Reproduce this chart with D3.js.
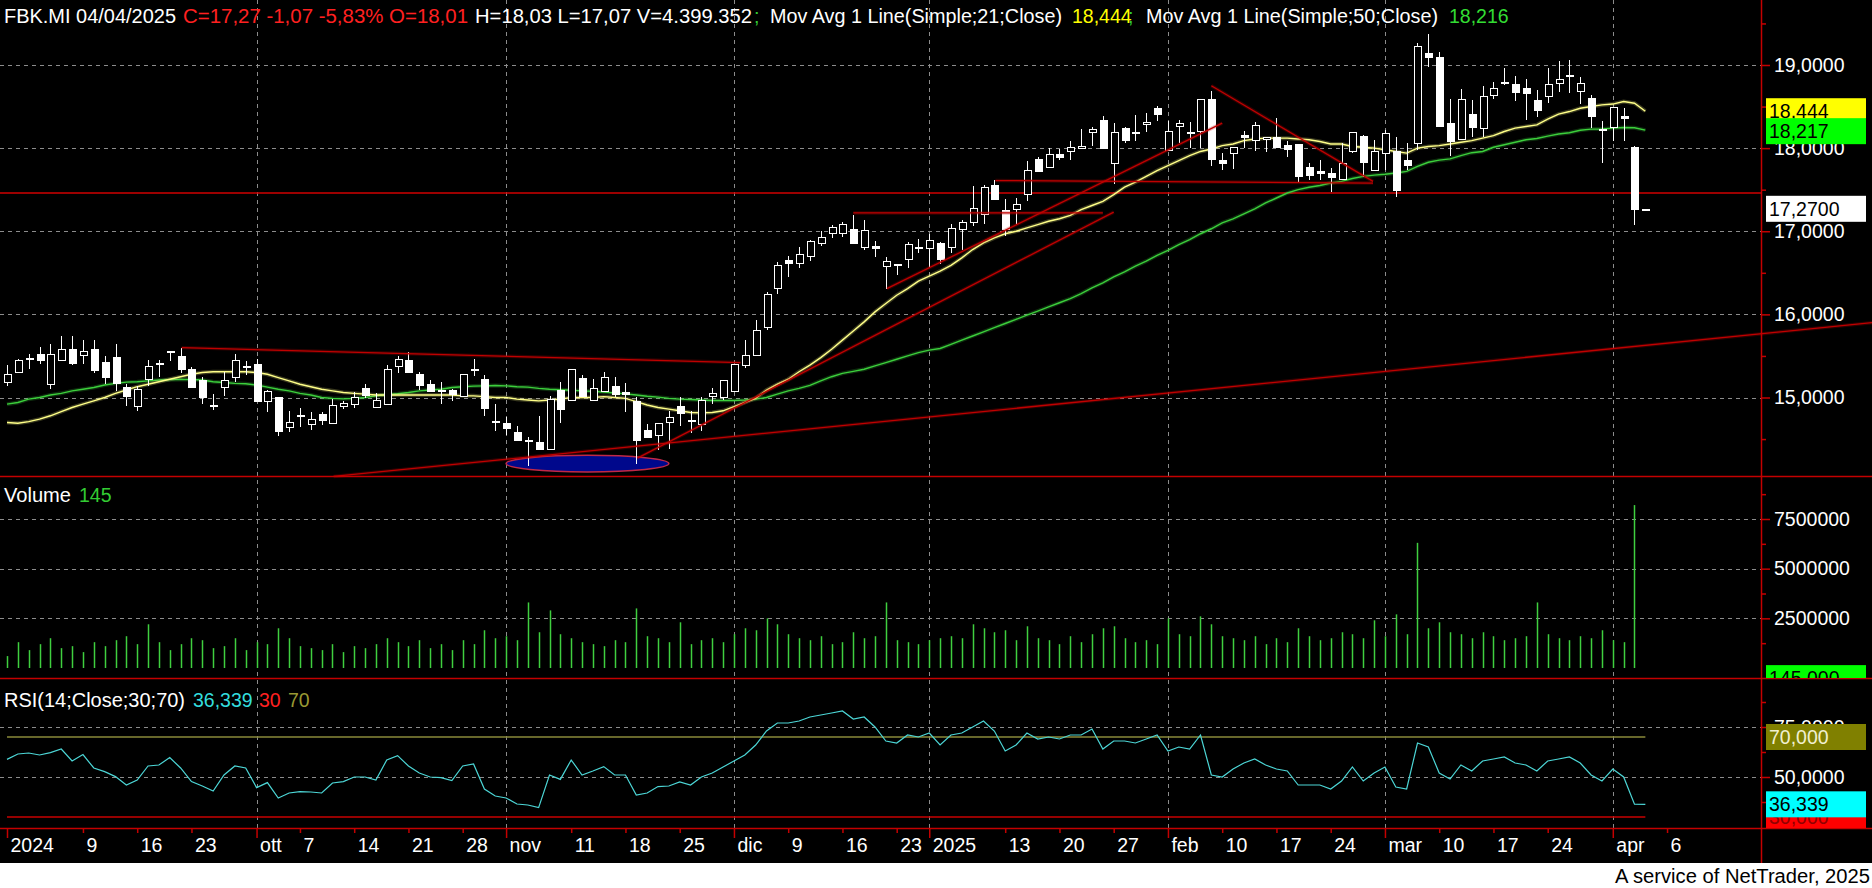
<!DOCTYPE html>
<html><head><meta charset="utf-8">
<script src="https://cdn.jsdelivr.net/npm/d3@7"></script>
<style>html,body{margin:0;padding:0;background:#fff;}svg{display:block;}</style>
</head><body>
<script>
// ---------- DATA (bar index 0 = 29/08/2024 ... 151 = last bar) ----------
const opens = [15.185,15.306,15.47,15.518,15.153,15.458,15.587,15.510,15.579,15.422,
15.482,15.125,14.896,15.213,15.41,15.559,15.494,15.346,15.213,14.91,
15.125,15.245,15.38,15.406,14.956,15.012,14.643,14.79,14.691,14.796,
14.691,14.900,14.932,15.117,14.884,14.924,15.382,15.446,15.286,15.157,
15.087,15.085,15.016,15.34,15.225,14.717,14.695,14.582,14.484,14.462,
14.382,15.093,14.964,15.237,14.972,15.076,15.141,15.07,14.952,14.611,
14.550,14.711,14.896,14.725,14.671,15.016,15.0,15.076,15.386,15.518,
15.839,16.317,16.651,16.611,16.699,16.860,16.984,16.980,17.024,16.811,
16.819,16.582,16.60,16.659,16.81,16.803,16.860,16.811,17.020,17.112,
17.213,17.554,17.261,17.261,17.446,17.868,17.767,17.928,17.964,17.996,
18.189,18.337,17.815,18.237,18.19,18.285,18.478,17.984,18.261,18.195,
18.197,18.586,17.855,17.936,18.157,18.096,18.117,18.137,18.032,18.048,
17.767,17.723,17.695,17.635,17.968,18.145,17.735,17.936,17.964,17.855,
18.064,19.145,19.100,18.297,18.104,18.406,18.237,18.631,18.80,18.771,
18.719,18.578,18.631,18.779,18.88,18.679,18.598,18.229,18.249,18.386,
18.01,17.27];
const highs = [15.386,15.466,15.518,15.607,15.639,15.735,15.735,15.687,15.687,15.494,
15.639,15.165,15.133,15.446,15.446,15.559,15.599,15.366,15.245,15.044,
15.306,15.518,15.438,15.466,15.085,15.012,14.832,14.872,14.824,14.824,
14.984,14.956,15.065,15.157,15.052,15.386,15.494,15.542,15.302,15.213,
15.185,15.105,15.286,15.466,15.265,14.916,14.763,14.663,14.522,14.783,
15.024,15.189,15.341,15.265,15.225,15.301,15.245,15.177,15.004,14.683,
14.695,14.843,15.004,14.843,15.004,15.117,15.205,15.40,15.695,15.928,
16.269,16.631,16.699,16.811,16.892,17.004,17.072,17.112,17.193,17.132,
16.884,16.691,16.60,16.872,16.912,16.964,16.872,17.084,17.132,17.542,
17.554,17.614,17.382,17.406,17.847,17.888,17.996,17.992,18.084,18.225,
18.249,18.386,18.297,18.257,18.398,18.418,18.506,18.329,18.337,18.317,
18.586,18.691,17.944,18.008,18.209,18.317,18.137,18.357,18.088,18.048,
17.823,17.855,17.755,18.064,18.197,18.157,18.096,18.217,18.129,18.056,
19.269,19.373,19.153,18.586,18.707,18.578,18.747,18.799,18.960,18.867,
18.827,18.699,18.960,19.048,19.060,18.851,18.639,18.325,18.490,18.478,
18.03,17.27];
const lows = [15.133,15.30,15.338,15.398,15.097,15.45,15.386,15.398,15.293,15.157,
15.073,14.892,14.836,15.133,15.245,15.438,15.293,15.12,14.916,14.852,
15.024,15.185,15.273,14.95,14.824,14.535,14.583,14.643,14.615,14.671,
14.69,14.864,14.872,14.996,14.872,14.92,15.293,15.30,15.085,15.065,
14.916,14.956,15.01,15.26,14.783,14.602,14.554,14.48,14.173,14.38,
14.38,14.695,14.96,15.02,14.964,15.07,15.004,14.823,14.201,14.52,
14.370,14.382,14.663,14.575,14.602,14.924,14.972,15.07,15.357,15.51,
15.815,16.249,16.450,16.558,16.643,16.823,16.924,16.932,16.85,16.779,
16.691,16.301,16.470,16.558,16.739,16.570,16.611,16.739,16.771,17.068,
17.084,17.39,16.940,17.084,17.366,17.715,17.76,17.855,17.855,17.99,
18.024,18.0,17.574,18.064,18.088,18.197,18.329,17.98,18.056,17.996,
18.004,17.783,17.735,17.743,17.996,17.968,17.956,18.01,17.896,17.594,
17.614,17.614,17.474,17.63,17.936,17.655,17.73,17.735,17.414,17.735,
17.976,18.972,18.26,17.904,18.10,18.137,18.129,18.586,18.759,18.570,
18.337,18.377,18.546,18.679,18.667,18.530,18.237,17.823,18.088,18.088,
17.07,17.27];
const closes = [15.286,15.454,15.478,15.446,15.518,15.587,15.414,15.563,15.326,15.245,
15.165,15.012,15.097,15.374,15.418,15.555,15.342,15.125,15.004,14.905,
15.205,15.446,15.384,14.956,15.073,14.603,14.707,14.786,14.747,14.723,
14.912,14.932,15.012,15.032,14.972,15.346,15.462,15.306,15.157,15.073,
15.083,15.032,15.286,15.337,14.872,14.713,14.630,14.482,14.480,14.382,
14.984,14.859,15.341,15.024,15.117,15.245,15.044,15.05,14.482,14.522,
14.695,14.771,14.815,14.721,14.964,15.056,15.205,15.397,15.506,15.815,
16.241,16.598,16.611,16.723,16.880,16.932,17.052,17.092,16.851,17.020,
16.791,16.639,16.59,16.843,16.812,16.900,16.667,17.044,17.108,17.285,
17.534,17.390,17.032,17.325,17.735,17.727,17.928,17.896,18.016,18.020,
18.225,18.004,18.189,18.096,18.195,18.309,18.406,18.209,18.297,18.199,
18.586,17.863,17.815,18.008,18.129,18.273,18.137,18.016,17.984,17.663,
17.675,17.703,17.643,17.827,18.197,17.835,17.964,18.177,17.494,17.795,
19.229,19.100,18.265,18.076,18.586,18.245,18.627,18.719,18.798,18.679,
18.659,18.458,18.771,18.827,18.882,18.779,18.386,18.213,18.490,18.358,
17.27,17.27];
const volumes = [600000,1300000,900000,1200000,1500000,1000000,1100000,800000,1300000,1100000,
1400000,1600000,1200000,2200000,1300000,900000,1200000,1500000,1400000,1000000,
1100000,1500000,900000,1300000,1200000,2000000,1500000,1100000,1000000,900000,
1200000,800000,1100000,1000000,1200000,1500000,1300000,1100000,1400000,1000000,
1200000,900000,1400000,1200000,1900000,1500000,1600000,1400000,3300000,1800000,
2900000,1700000,1500000,1300000,1200000,1100000,1400000,1300000,3000000,1600000,
1500000,1300000,2300000,1200000,1400000,1500000,1300000,1700000,2000000,1900000,
2500000,2200000,1700000,1500000,1400000,1600000,1200000,1300000,1800000,1500000,
1600000,3300000,1400000,1300000,1200000,1400000,1500000,1600000,1500000,2200000,
2000000,1800000,1900000,1400000,2100000,1500000,1400000,1200000,1600000,1300000,
1700000,2000000,2100000,1500000,1300000,1400000,1200000,2500000,1700000,1600000,
2600000,2200000,1600000,1500000,1400000,1600000,1200000,1500000,1300000,2000000,
1600000,1400000,1500000,1800000,1700000,1500000,2400000,1600000,2700000,1700000,
6300000,2000000,2300000,1800000,1700000,1500000,1800000,1600000,1400000,1500000,
1600000,3300000,1700000,1500000,1400000,1600000,1500000,1900000,1400000,1300000,
8200000,145];
const ma21 = [14.70,14.69,14.71,14.74,14.78,14.83,14.88,14.92,14.96,15.00,
15.05,15.09,15.13,15.16,15.19,15.22,15.25,15.28,15.30,15.31,
15.31,15.31,15.31,15.30,15.28,15.24,15.20,15.16,15.13,15.10,
15.08,15.06,15.05,15.04,15.03,15.03,15.03,15.03,15.03,15.03,
15.03,15.03,15.02,15.02,15.01,15.00,15.00,14.98,14.97,14.96,
14.97,14.98,15.00,15.00,15.00,15.01,15.00,14.99,14.95,14.91,
14.88,14.86,14.84,14.82,14.815,14.82,14.84,14.89,14.94,14.99,
15.09,15.16,15.22,15.31,15.39,15.48,15.58,15.69,15.80,15.91,
16.03,16.13,16.23,16.31,16.40,16.46,16.52,16.59,16.68,16.78,
16.86,16.92,16.97,17.00,17.04,17.08,17.12,17.15,17.19,17.26,
17.31,17.36,17.44,17.53,17.59,17.66,17.73,17.79,17.85,17.91,
17.96,17.99,18.03,18.05,18.09,18.11,18.12,18.12,18.12,18.11,
18.10,18.08,18.05,18.05,18.02,18.01,18.00,17.98,17.96,17.94,
18.00,18.02,18.03,18.05,18.07,18.09,18.12,18.15,18.20,18.24,
18.26,18.28,18.35,18.41,18.44,18.48,18.50,18.52,18.53,18.56,
18.54,18.444];
const ma50 = [14.92,14.94,14.98,15.00,15.03,15.05,15.08,15.10,15.12,15.15,
15.17,15.185,15.19,15.20,15.21,15.215,15.217,15.217,15.21,15.19,
15.18,15.17,15.165,15.15,15.125,15.10,15.08,15.05,15.03,15.00,
14.99,14.984,14.99,15.00,15.02,15.035,15.045,15.06,15.08,15.09,
15.10,15.12,15.13,15.137,15.14,15.145,15.14,15.13,15.125,15.11,
15.10,15.093,15.087,15.08,15.076,15.065,15.055,15.044,15.03,15.015,
15.004,14.99,14.98,14.976,14.97,14.964,14.964,14.964,14.97,14.98,
15.00,15.04,15.08,15.11,15.145,15.20,15.25,15.29,15.315,15.34,
15.38,15.42,15.46,15.50,15.54,15.57,15.59,15.64,15.69,15.74,
15.79,15.84,15.89,15.94,15.99,16.04,16.09,16.14,16.19,16.25,
16.32,16.38,16.45,16.51,16.58,16.64,16.71,16.77,16.84,16.90,
16.97,17.03,17.10,17.15,17.21,17.27,17.34,17.40,17.46,17.50,
17.53,17.55,17.58,17.60,17.635,17.66,17.675,17.685,17.70,17.72,
17.78,17.83,17.855,17.87,17.91,17.945,17.96,18.01,18.04,18.07,
18.10,18.116,18.145,18.17,18.185,18.215,18.229,18.23,18.24,18.249,
18.245,18.216];
const rsi = [58.8,61.5,62,61,62.2,64,58,61.2,54.5,52.7,
50.2,46,48.5,55.5,56,59.7,54.5,47.7,45.5,43,
51,55.5,54.5,44.7,47.2,39.5,42,42.7,42.5,42,
47,47.7,50,50,48.5,58.5,60.7,55.5,52,50,
49.7,48.2,55.5,56.5,44,40.5,39.5,36.5,36,34.7,
51,48.8,58.5,51,53,55.2,51,51,41,42,
45.2,45.5,47.5,46,50,52,55,58,61,66,
73,77,77,78,80,81,82,83,79,80,
75,68,67,71,70,72,66,71,72,75,
78,73,63,66,72,69,70,69,71,71,
74,64,68,68,67,69,71,63,65,64,
71,51,50,54,57,59,56,54,53,46,
46,46,44,48,55,48,52,55,45,44,
67,65,52,49,56,53,58,59,60,57,
56,53,58,59,60,57,51,48,54,50,
36.4,36.339];

const tickLabels = ["2024","9","16","23","ott","7","14","21","28","nov","11","18","25","dic","9","16","23","2025","13","20","27","feb","10","17","24","mar","10","17","24","apr","6"];
const tickIndex  = [0,7,12,17,23,27,32,37,42,46,52,57,62,67,72,77,82,85,92,97,102,107,112,117,122,127,132,137,142,148,153];
const monthIndex = [0,23,46,67,85,107,127,148];
const priceTicks = [15,16,17,18,19];
const priceMinor = [14.5,15.5,16.5,17.5,18.5,19.5];
const volumeTicks = [2500000,5000000,7500000];
const volumeMinor = [1250000,3750000,6250000,8750000];
const rsiTicks = [50,75];
const rsiMinor = [37.5,62.5,87.5];
const rsiLevels = [30,70];

// drawn objects: [startIndex, startPrice, endIndex, endPrice]
const trendLines = [
  [16.1,15.60,67.6,15.42],
  [30.1,14.05,171.9,15.90],
  [58.1,14.27,102.0,17.23],
  [81.1,16.31,112.0,18.30],
  [78.0,17.22,101.0,17.22],
  [91.1,17.61,125.9,17.58],
  [111.0,18.75,125.9,17.60]
];
const levelPrice = [17.46];
const ellipseCenter = [53.5,14.205];
const ellipseRadii = [7.5,0.1];

// ---------- LAYOUT ----------
const W = 1872, H = 888;
const axisX = 1761, blackH = 863;
const pTop = 0, pBot = 476, vBot = 678, rBot = 828;
const FONT = "'Liberation Sans', Arial, sans-serif";
const FS = 19.5;
const RED = "#c40000";

const svg = d3.select("body").append("svg").attr("width",W).attr("height",H)
  .style("font-family",FONT).style("font-size",FS+"px");
svg.append("rect").attr("width",W).attr("height",H).attr("fill","#fff");
svg.append("rect").attr("width",W).attr("height",blackH).attr("fill","#000");

const x = d3.scaleLinear().domain([0,151]).range([7, 7+151*10.85]);
const yP = d3.scaleLinear().domain([15,19]).range([397.5,65]);
const yV = d3.scaleLinear().domain([0,7500000]).range([668,519]);
const yR = d3.scaleLinear().domain([50,75]).range([777,727]);

const defs = svg.append("defs");
defs.append("clipPath").attr("id","cp").append("rect").attr("x",0).attr("y",pTop).attr("width",axisX).attr("height",pBot-pTop);
defs.append("clipPath").attr("id","cv").append("rect").attr("x",0).attr("y",pBot).attr("width",W).attr("height",vBot-pBot);
defs.append("clipPath").attr("id","cr").append("rect").attr("x",0).attr("y",vBot).attr("width",W).attr("height",rBot-vBot);

const GRID = "#8c8c8c";
svg.append("g").selectAll("line").data(monthIndex.slice(1)).join("line")
  .attr("x1",d=>Math.round(x(d))+0.5).attr("x2",d=>Math.round(x(d))+0.5)
  .attr("y1",0).attr("y2",rBot).attr("stroke",GRID).attr("stroke-dasharray","4,4");
function hgrid(vals, sc){
  svg.append("g").selectAll("line").data(vals).join("line")
    .attr("x1",0).attr("x2",axisX).attr("y1",d=>Math.round(sc(d))+0.5).attr("y2",d=>Math.round(sc(d))+0.5)
    .attr("stroke",GRID).attr("stroke-dasharray","4,4");
}
hgrid(priceTicks,yP); hgrid(volumeTicks,yV); hgrid(rsiTicks,yR);

// ---------- PRICE PANEL ----------
const gp = svg.append("g").attr("clip-path","url(#cp)");
gp.selectAll("line.lvl").data(levelPrice).join("line").attr("class","lvl")
  .attr("x1",0).attr("x2",axisX).attr("y1",d=>yP(d)).attr("y2",d=>yP(d))
  .attr("stroke","#d00000").attr("stroke-width",1.6);
const gt = svg.append("g");
[[3.5,0.25],[1.3,1]].forEach(([w,o])=>{
  gt.append("g").selectAll("line").data(trendLines).join("line")
    .attr("x1",d=>x(d[0])).attr("y1",d=>yP(d[1])).attr("x2",d=>x(d[2])).attr("y2",d=>yP(d[3]))
    .attr("stroke","#c00000").attr("stroke-width",w).attr("stroke-opacity",o);
});
gp.append("ellipse").attr("cx",x(ellipseCenter[0])).attr("cy",yP(ellipseCenter[1]))
  .attr("rx",x(ellipseRadii[0])-x(0)).attr("ry",yP(ellipseCenter[1]-ellipseRadii[1])-yP(ellipseCenter[1]))
  .attr("fill","#00088c").attr("stroke","#c02848").attr("stroke-width",1.5);

const idx = d3.range(152);
function glowLine(g, vals, sc, color){
  const ln = d3.line().x(i=>x(i)).y(i=>sc(vals[i]));
  g.append("path").attr("d",ln(idx)).attr("fill","none").attr("stroke",color).attr("stroke-width",4).attr("stroke-opacity",0.22);
  g.append("path").attr("d",ln(idx)).attr("fill","none").attr("stroke",color).attr("stroke-width",1.4);
}
glowLine(gp, ma50, yP, "#3ccf3c");
glowLine(gp, ma21, yP, "#ffff88");

const gc = gp.append("g").attr("shape-rendering","crispEdges");
gc.selectAll("line").data(idx).join("line")
  .attr("x1",i=>Math.round(x(i))+0.5).attr("x2",i=>Math.round(x(i))+0.5)
  .attr("y1",i=>yP(highs[i])).attr("y2",i=>yP(lows[i])).attr("stroke","#fff").attr("stroke-width",1.2);
gc.selectAll("rect").data(idx).join("rect")
  .attr("x",i=>Math.round(x(i))-3).attr("width",7)
  .attr("y",i=>Math.round(yP(Math.max(opens[i],closes[i])))+0.5)
  .attr("height",i=>Math.max(1,Math.round(Math.abs(yP(opens[i])-yP(closes[i])))))
  .attr("fill",i=>closes[i]<opens[i]?"#fff":"#000").attr("stroke","#fff").attr("stroke-width",1);

// ---------- VOLUME PANEL ----------
const gv = svg.append("g").attr("clip-path","url(#cv)");
gv.selectAll("line").data(idx).join("line")
  .attr("x1",i=>Math.round(x(i))+0.5).attr("x2",i=>Math.round(x(i))+0.5)
  .attr("y1",yV(0)).attr("y2",i=>yV(volumes[i])).attr("stroke","#3fcf3f").attr("stroke-width",1.5);

// ---------- RSI PANEL ----------
const gr = svg.append("g").attr("clip-path","url(#cr)");
gr.selectAll("line.lv").data(rsiLevels).join("line").attr("class","lv")
  .attr("x1",x(0)).attr("x2",x(151)).attr("y1",d=>yR(d)).attr("y2",d=>yR(d))
  .attr("stroke",d=>d===30?"#c80000":"#8a8a3a").attr("stroke-width",1.5);
const rl = d3.line().x(i=>x(i)).y(i=>yR(rsi[i]));
gr.append("path").attr("d",rl(idx)).attr("fill","none").attr("stroke","#4cd6d6").attr("stroke-width",1.2);

// ---------- FRAME ----------
[pBot,vBot,rBot].forEach(yy=>svg.append("line").attr("x1",0).attr("x2",W).attr("y1",yy+0.5).attr("y2",yy+0.5).attr("stroke",RED).attr("stroke-width",1.5));
svg.append("line").attr("x1",axisX+0.5).attr("x2",axisX+0.5).attr("y1",0).attr("y2",blackH).attr("stroke",RED).attr("stroke-width",1.5);

// ---------- RIGHT AXES ----------
const fmt4 = d=>d3.format(".4f")(d).replace(".",",");
function rightAxis(sc, major, minor, fmt){
  const g1 = svg.append("g").attr("transform",`translate(${axisX},0)`)
    .call(d3.axisRight(sc).tickValues(major).tickSize(9).tickPadding(4).tickFormat(fmt));
  g1.select(".domain").remove();
  g1.selectAll("line").attr("stroke",RED).attr("stroke-width",1.5);
  g1.selectAll("text").attr("fill","#fff").style("font-family",FONT).style("font-size",FS+"px").attr("x",13);
  const g2 = svg.append("g").attr("transform",`translate(${axisX},0)`)
    .call(d3.axisRight(sc).tickValues(minor).tickSize(5).tickFormat(""));
  g2.select(".domain").remove();
  g2.selectAll("line").attr("stroke",RED).attr("stroke-width",1.5);
}
rightAxis(yP, priceTicks, priceMinor, fmt4);
rightAxis(yV, volumeTicks, volumeMinor, d3.format("d"));
rightAxis(yR, rsiTicks, rsiMinor, fmt4);

function badge(yc, label, bg, fg, clip){
  const g = svg.append("g"); if(clip) g.attr("clip-path",clip);
  g.append("rect").attr("x",1766).attr("y",yc-13).attr("width",100).attr("height",26).attr("fill",bg);
  g.append("text").attr("x",1769).attr("y",yc+7).attr("fill",fg).text(label);
}
const fmt3 = d=>d3.format(".3f")(d).replace(".",",");
badge(yP(ma21[151]), fmt3(ma21[151]), "#ffff00", "#000");
badge(yP(ma50[151])+1, fmt3(18.217), "#00ff00", "#000");
badge(yP(closes[151]), fmt4(closes[151]), "#ffffff", "#000");
badge(yV(145000)+13, "145,000", "#00ff00", "#000", "url(#cv)");
badge(yR(30), "30,000", "#ff0000", "#900000", "url(#cr)");
badge(yR(36.339), "36,339", "#00ffff", "#000", "url(#cr)");
badge(yR(70), "70,000", "#808000", "#f0f0d0", "url(#cr)");

// ---------- X AXIS ----------
const gx = svg.append("g").attr("transform",`translate(0,${rBot})`)
  .call(d3.axisBottom(x).tickValues(tickIndex).tickSize(5).tickFormat((d,k)=>tickLabels[k]));
gx.select(".domain").remove();
gx.selectAll(".tick line").attr("stroke",RED).attr("stroke-width",1.5)
  .attr("y2",d=>monthIndex.includes(d)?10:5);
gx.selectAll(".tick text").attr("fill","#fff").attr("text-anchor","start").attr("x",3).attr("y",24).attr("dy",0)
  .style("font-family",FONT).style("font-size",FS+"px");

// ---------- TITLES ----------
function spans(yb, parts){
  parts.forEach(([tx,xx,col,len])=>{
    const t = svg.append("text").attr("x",xx).attr("y",yb).attr("fill",col).text(tx);
    if(len) t.attr("textLength",len).attr("lengthAdjust","spacingAndGlyphs");
  });
}
spans(23,[
  ["FBK.MI 04/04/2025",4,"#fff",172],
  ["C=17,27 -1,07 -5,83% O=18,01",183,"#ff2020",285],
  ["H=18,03 L=17,07 V=4.399.352",475,"#fff",277],
  [";",754,"#33cc33",0],
  ["Mov Avg 1 Line(Simple;21;Close)",770,"#fff",292],
  ["18,444",1072,"#ffff00",0],
  [";",1128,"#33cc33",0],
  ["Mov Avg 1 Line(Simple;50;Close)",1146,"#fff",292],
  ["18,216",1449,"#33dd33",0]
]);
spans(502,[["Volume",4,"#fff",67],["145",79,"#33cc33",0]]);
spans(707,[["RSI(14;Close;30;70)",4,"#fff",181],["36,339",193,"#33dddd",0],["30",259,"#ff2020",0],["70",288,"#999933",0]]);
svg.append("text").attr("x",1870).attr("y",883).attr("text-anchor","end").attr("fill","#000")
  .attr("textLength",255).attr("lengthAdjust","spacingAndGlyphs").text("A service of NetTrader, 2025");
</script>
</body></html>
